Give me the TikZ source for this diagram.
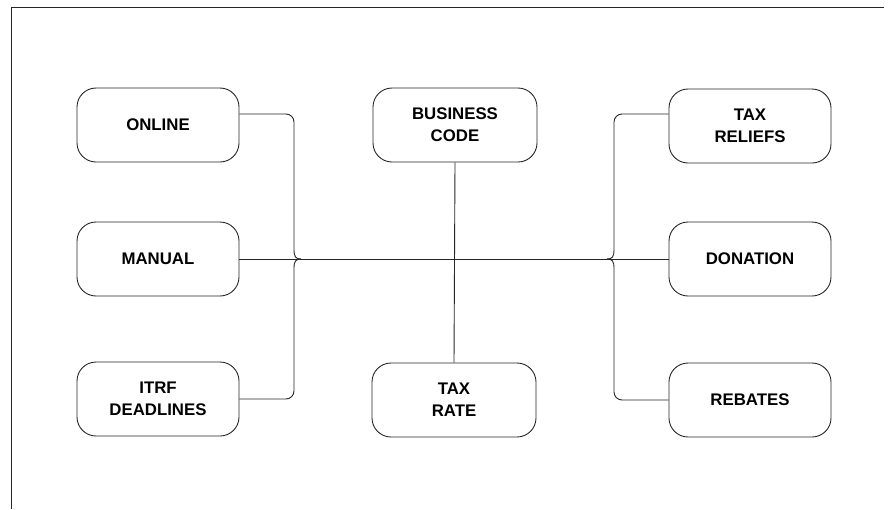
\documentclass[tikz,border=0pt]{standalone}
\usepackage{fontspec}
\setmainfont{Liberation Sans}
\begin{document}
\begin{tikzpicture}[x=1pt,y=-1pt,
  box/.style={draw=black!85,line width=0.9pt,rounded corners=19pt,minimum width=162pt,minimum height=74pt,inner sep=0pt,align=center,font=\fontsize{16.8}{22}\selectfont\bfseries},
  conn/.style={draw=black!85,line width=0.9pt}]
\useasboundingbox (0,0) rectangle (888,509);
\draw[conn] (11,509) -- (11,7) -- (884,7);
\node[box] (online) at (158,125) {ONLINE};
\node[box] (manual) at (158,259) {MANUAL};
\node[box] (itrf) at (158,399) {ITRF\\DEADLINES};
\node[box,minimum width=164pt] (bcode) at (455,125) {BUSINESS\\CODE};
\node[box,minimum width=164pt] (taxrate) at (454,400) {TAX\\RATE};
\node[box] (reliefs) at (750,126) {TAX\\RELIEFS};
\node[box] (donation) at (750,259) {DONATION};
\node[box] (rebates) at (750,400) {REBATES};
% main lines
\draw[conn] (manual.east) -- (donation.west);
\draw[conn] (bcode.south) -- (taxrate.north);
% left brace
\draw[conn,rounded corners=8pt] ([yshift=11pt]online.east) -- (294,114) -- (294,250);
\draw[conn] (294,250) .. controls (294,257) and (296,259) .. (301,259);
\draw[conn] (301,259) .. controls (296,259) and (294,261) .. (294,268);
\draw[conn,rounded corners=8pt] (294,268) -- (294,399) -- (itrf.east);
% right brace
\draw[conn,rounded corners=8pt] ([yshift=12pt]reliefs.west) -- (614,114) -- (614,250);
\draw[conn] (614,250) .. controls (614,257) and (612,259) .. (607,259);
\draw[conn] (607,259) .. controls (612,259) and (614,261) .. (614,268);
\draw[conn,rounded corners=8pt] (614,268) -- (614,400) -- (rebates.west);
\end{tikzpicture}
\end{document}
